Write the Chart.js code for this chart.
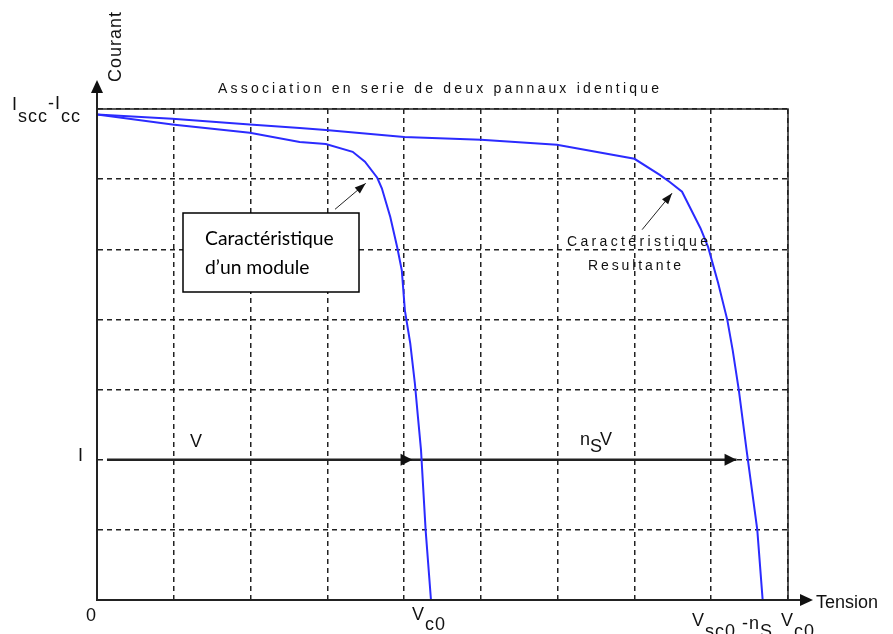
<!DOCTYPE html>
<html>
<head>
<meta charset="utf-8">
<script src="https://cdn.jsdelivr.net/npm/chart.js@4/dist/chart.umd.min.js"></script>
<style>html,body{margin:0;background:#fff}</style>
</head>
<body>
<canvas id="ivChart" width="893" height="634"></canvas>
<script>
// Tension / courant in grid units (the original has a 9 x 7 grid, no numbers)
const MODULE_V = [0, 0.98, 1.99, 2.64, 2.98, 3.33, 3.49, 3.65, 3.71, 3.82, 3.91, 3.97, 4.01, 4.08, 4.14, 4.18, 4.22, 4.28, 4.35];
const MODULE_I = [6.92, 6.78, 6.66, 6.53, 6.50, 6.39, 6.25, 6.02, 5.87, 5.46, 5.03, 4.70, 4.13, 3.66, 3.09, 2.61, 2.14, 1.00, 0];
const SERIES_V = [0, 0.98, 1.99, 2.64, 2.98, 4.00, 5.00, 5.99, 7.00, 7.33, 7.46, 7.62, 7.86, 7.96, 8.09, 8.21, 8.28, 8.36, 8.46, 8.60, 8.67];
const SERIES_I = [6.92, 6.86, 6.78, 6.73, 6.70, 6.60, 6.56, 6.49, 6.29, 6.06, 5.96, 5.82, 5.30, 5.03, 4.52, 3.99, 3.56, 2.99, 2.14, 1.00, 0];
const OP_V = [0.13, 4.11, 8.33];   // start of arrow, module point, series point
const OP_I = 2;

const BLUE = '#2b2bff';
const INK = '#222';

const pts = (xs, ys) => xs.map((v, i) => ({ x: v, y: Array.isArray(ys) ? ys[i] : ys }));

function arrowHead(ctx, x1, y1, x2, y2, len, half) {
    const a = Math.atan2(y2 - y1, x2 - x1);
    ctx.beginPath();
    ctx.moveTo(x2, y2);
    ctx.lineTo(x2 - len * Math.cos(a) + half * Math.sin(a), y2 - len * Math.sin(a) - half * Math.cos(a));
    ctx.lineTo(x2 - len * Math.cos(a) - half * Math.sin(a), y2 - len * Math.sin(a) + half * Math.cos(a));
    ctx.closePath();
    ctx.fill();
}

// draws [text, baselineOffset, gap] pieces one after the other
function pieces(ctx, parts, x, y) {
    let cx = x;
    for (const [t, dy, gap] of parts) {
        cx += gap || 0;
        ctx.fillText(t, cx, y + dy);
        cx += ctx.measureText(t).width;
    }
}

function fitText(ctx, text, x, y, width) {
    ctx.letterSpacing = '0px';
    const w = ctx.measureText(text).width;
    ctx.letterSpacing = ((width - w) / (text.length - 1)) + 'px';
    ctx.fillText(text, x, y);
    ctx.letterSpacing = '0px';
}

const overlay = {
    id: 'overlay',
    afterDraw(chart) {
        const { ctx, chartArea: a, scales: { x, y } } = chart;
        ctx.save();
        ctx.strokeStyle = INK;
        ctx.fillStyle = '#111';

        // solid frame top / right
        ctx.lineWidth = 1.5;
        ctx.beginPath();
        ctx.moveTo(a.left, a.top); ctx.lineTo(a.right, a.top); ctx.lineTo(a.right, a.bottom);
        ctx.stroke();

        // axes with arrows
        ctx.lineWidth = 2;
        ctx.beginPath();
        ctx.moveTo(a.left, a.bottom); ctx.lineTo(a.left, a.top - 20);
        ctx.moveTo(a.left, a.bottom); ctx.lineTo(a.right + 14, a.bottom);
        ctx.stroke();
        arrowHead(ctx, a.left, a.bottom, a.left, a.top - 29, 13, 6);
        arrowHead(ctx, a.left, a.bottom, a.right + 25, a.bottom, 13, 6);

        // arrow heads on the operating line
        const yi = y.getPixelForValue(OP_I);
        arrowHead(ctx, x.getPixelForValue(OP_V[0]), yi, x.getPixelForValue(OP_V[1]), yi, 12, 6);
        arrowHead(ctx, x.getPixelForValue(OP_V[0]), yi, x.getPixelForValue(OP_V[2]), yi, 12, 6);

        // pointer arrows
        ctx.lineWidth = 1;
        const pointers = [[3.10, 5.57, 3.50, 5.94], [7.10, 5.28, 7.49, 5.80]];
        for (const [v1, i1, v2, i2] of pointers) {
            const p1 = [x.getPixelForValue(v1), y.getPixelForValue(i1)];
            const p2 = [x.getPixelForValue(v2), y.getPixelForValue(i2)];
            ctx.beginPath(); ctx.moveTo(p1[0], p1[1]); ctx.lineTo(p2[0], p2[1]); ctx.stroke();
            arrowHead(ctx, p1[0], p1[1], p2[0], p2[1], 11, 4);
        }

        // title
        ctx.font = '14px "Liberation Sans", Arial, sans-serif';
        ctx.textBaseline = 'alphabetic';
        fitText(ctx, 'Association en serie de deux pannaux identique', 218, 93, 441);

        // resultant label
        fitText(ctx, 'Caractéristique', 567, 246, 141);
        fitText(ctx, 'Resultante', 588, 270, 93);

        // axis names
        ctx.font = '18px "Liberation Sans", Arial, sans-serif';
        ctx.fillText('Tension', 816, 608);
        ctx.save();
        ctx.translate(121, 82);
        ctx.rotate(-Math.PI / 2);
        fitText(ctx, 'Courant', 0, 0, 70);
        ctx.restore();

        // tick-like labels
        ctx.letterSpacing = '1px';
        pieces(ctx, [['I', 0], ['scc', 12], ['-I', -1], ['cc', 12]], 12, 110);
        ctx.fillText('I', 78, 461);
        ctx.fillText('0', 86, 621);
        pieces(ctx, [['V', 0], ['c0', 10]], 412, 620);
        pieces(ctx, [['V', 0], ['sc0', 11], ['-n', 3, 6], ['S', 11], ['V', 0, 8], ['c0', 11]], 692, 626);
        pieces(ctx, [['V', 0]], 190, 447);
        pieces(ctx, [['n', 0], ['S', 7, -1], ['V', 0, -3]], 580, 445);
        ctx.letterSpacing = '0px';

        // text box
        const bx = 183, by = 213, bw = 176, bh = 79;
        ctx.fillStyle = '#fff';
        ctx.fillRect(bx, by, bw, bh);
        ctx.lineWidth = 1.5;
        ctx.strokeStyle = '#000';
        ctx.strokeRect(bx, by, bw, bh);
        ctx.fillStyle = '#000';
        ctx.font = '18px Lato, "Noto Sans", sans-serif';
        const s = 18 * 129 / ctx.measureText('Caractéristique').width;
        ctx.font = s.toFixed(1) + 'px Lato, "Noto Sans", sans-serif';
        ctx.fillText('Caractéristique', 205, 245);
        ctx.fillText('d\u2019un module', 205, 274);
        ctx.restore();
    }
};

new Chart(document.getElementById('ivChart'), {
    type: 'scatter',
    data: {
        datasets: [
            { label: 'Caractéristique d\u2019un module', data: pts(MODULE_V, MODULE_I), showLine: true, borderColor: BLUE, borderWidth: 2, pointRadius: 0, tension: 0 },
            { label: 'Caractéristique Resultante', data: pts(SERIES_V, SERIES_I), showLine: true, borderColor: BLUE, borderWidth: 2, pointRadius: 0, tension: 0 },
            { label: 'I', data: pts(OP_V, OP_I), showLine: true, borderColor: INK, borderWidth: 2.5, pointRadius: 0 }
        ]
    },
    options: {
        responsive: false,
        animation: false,
        layout: { padding: { left: 97, top: 109, right: 105, bottom: 34 } },
        plugins: { legend: { display: false }, tooltip: { enabled: false } },
        scales: {
            x: {
                type: 'linear', min: 0, max: 9,
                ticks: { display: false, stepSize: 1 },
                grid: { color: INK, lineWidth: 1.5, drawTicks: false },
                border: { display: true, color: INK, width: 2, dash: [5, 4] }
            },
            y: {
                type: 'linear', min: 0, max: 7,
                ticks: { display: false, stepSize: 1 },
                grid: { color: INK, lineWidth: 1.5, drawTicks: false },
                border: { display: true, color: INK, width: 2, dash: [5, 4] }
            }
        }
    },
    plugins: [overlay]
});
</script>
</body>
</html>
